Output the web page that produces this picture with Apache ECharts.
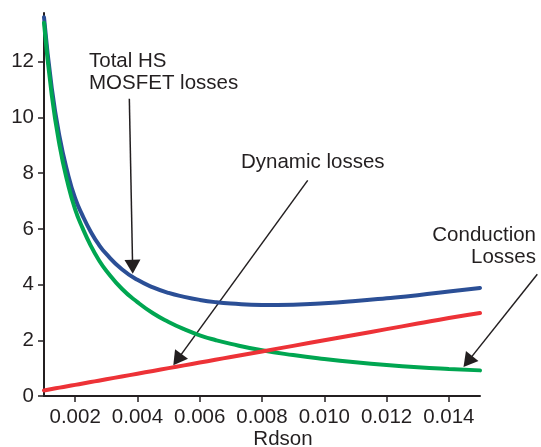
<!DOCTYPE html>
<html><head><meta charset="utf-8">
<script src="https://cdn.jsdelivr.net/npm/echarts@6/dist/echarts.min.js"></script>
<style>html,body{margin:0;padding:0;background:#fff}#c{width:541px;height:447px}</style>
</head><body><div id="c"></div>
<script>
const rdson = [0.001, 0.00125, 0.0015, 0.00175, 0.002, 0.00225, 0.0025, 0.00275, 0.003, 0.0035, 0.004, 0.0045, 0.005, 0.0055, 0.006, 0.0065, 0.007, 0.008, 0.009, 0.010, 0.011, 0.012, 0.013, 0.014, 0.015];
const totalLosses = [13.6, 11.05, 9.3, 8.05, 7.1, 6.45, 5.9, 5.45, 5.1, 4.55, 4.17, 3.9, 3.7, 3.56, 3.45, 3.37, 3.32, 3.27, 3.28, 3.33, 3.41, 3.51, 3.62, 3.75, 3.88];
const conductionLosses = [13.4, 10.8, 9.0, 7.7, 6.7, 6.0, 5.4, 4.9, 4.5, 3.85, 3.37, 2.97, 2.66, 2.40, 2.18, 2.01, 1.87, 1.64, 1.47, 1.33, 1.21, 1.11, 1.03, 0.97, 0.92];
const dynamicLosses = [0.2, 0.25, 0.3, 0.35, 0.4, 0.45, 0.5, 0.55, 0.6, 0.7, 0.8, 0.9, 1.0, 1.1, 1.2, 1.3, 1.4, 1.6, 1.8, 2.0, 2.2, 2.4, 2.6, 2.8, 2.98];
const xTicks = [0.002, 0.004, 0.006, 0.008, 0.010, 0.012, 0.014];
const yTicks = [0, 2, 4, 6, 8, 10, 12];
const xName = 'Rdson';

// annotation texts and arrows (arrow endpoints in data coordinates)
const notes = [
  {lines: ['Total HS', 'MOSFET losses'], from: [0.00374, 10.67], to: [0.00385, 4.39]},
  {lines: ['Dynamic losses'], from: [0.009468, 7.74], to: [0.005152, 1.10]},
  {lines: ['Conduction', 'Losses'], from: [0.01684, 4.37], to: [0.01447, 1.04]}
];

const INK = '#231f20';
const FONT = '"Liberation Sans", Arial, Helvetica, sans-serif';
const FS = 20.5;
const chart = echarts.init(document.getElementById('c'), null, {renderer: 'canvas'});
const zip = a => rdson.map((x, i) => [x, a[i]]);
const lineSeries = (name, data, color) => ({
  name, type: 'line', data: zip(data), showSymbol: false, smooth: true,
  lineStyle: {color, width: 4, cap: 'round'}, itemStyle: {color}, silent: true, animation: false
});
chart.setOption({
  animation: false,
  grid: {left: 44, right: 61, top: 13, bottom: 51, containLabel: false, outerBoundsMode: 'none'},
  xAxis: {
    type: 'value', min: 0.001, max: 0.015,
    name: xName, nameLocation: 'middle', nameGap: 32.5, nameMoveOverlap: false,
    nameTextStyle: {fontFamily: FONT, fontSize: FS, color: INK, padding: [0, 0, 0, 42]},
    axisLine: {show: true, lineStyle: {color: INK, width: 2}},
    axisTick: {show: true, customValues: xTicks, length: 6, lineStyle: {color: INK, width: 1.5}},
    axisLabel: {customValues: xTicks, formatter: v => Number(v).toFixed(3), fontFamily: FONT, fontSize: FS, color: INK, margin: 11},
    splitLine: {show: false}
  },
  yAxis: {
    type: 'value', min: 0, max: 13.75,
    axisLine: {show: true, lineStyle: {color: INK, width: 2}},
    axisTick: {show: true, customValues: yTicks, length: 6, lineStyle: {color: INK, width: 1.5}},
    axisLabel: {customValues: yTicks, formatter: v => String(v), fontFamily: FONT, fontSize: FS, color: INK, margin: 10},
    splitLine: {show: false}
  },
  series: [
    lineSeries('Total HS MOSFET losses', totalLosses, '#2b4f96'),
    lineSeries('Conduction Losses', conductionLosses, '#00a651'),
    lineSeries('Dynamic losses', dynamicLosses, '#ed3237')
  ]
});

// build annotation graphics
const txtPos = [
  [{x: 89, y: 61.5, align: 'left'}, {x: 89, y: 83.5, align: 'left'}],
  [{x: 241, y: 162.5, align: 'left'}],
  [{x: 536, y: 235, align: 'right'}, {x: 536, y: 257.5, align: 'right'}]
];
const elements = [];
notes.forEach((n, k) => {
  n.lines.forEach((t, j) => {
    const p = txtPos[k][j];
    elements.push({type: 'text', x: p.x, y: p.y, silent: true,
      style: {text: t, fill: INK, font: FS + 'px ' + FONT, textAlign: p.align, textVerticalAlign: 'middle'}});
  });
  const a = chart.convertToPixel({gridIndex: 0}, n.from);
  const b = chart.convertToPixel({gridIndex: 0}, n.to);
  const dx = b[0] - a[0], dy = b[1] - a[1];
  const L = Math.hypot(dx, dy), ux = dx / L, uy = dy / L;
  const hl = 14, hw = 8;
  const bx = b[0] - ux * hl, by = b[1] - uy * hl;
  elements.push({type: 'line', silent: true, shape: {x1: a[0], y1: a[1], x2: bx + ux * 2, y2: by + uy * 2},
    style: {stroke: INK, lineWidth: 1.5}});
  elements.push({type: 'polygon', silent: true,
    shape: {points: [[b[0], b[1]], [bx - uy * hw, by + ux * hw], [bx + uy * hw, by - ux * hw]]},
    style: {fill: INK}});
});
chart.setOption({graphic: {elements}});
</script>
</body></html>
